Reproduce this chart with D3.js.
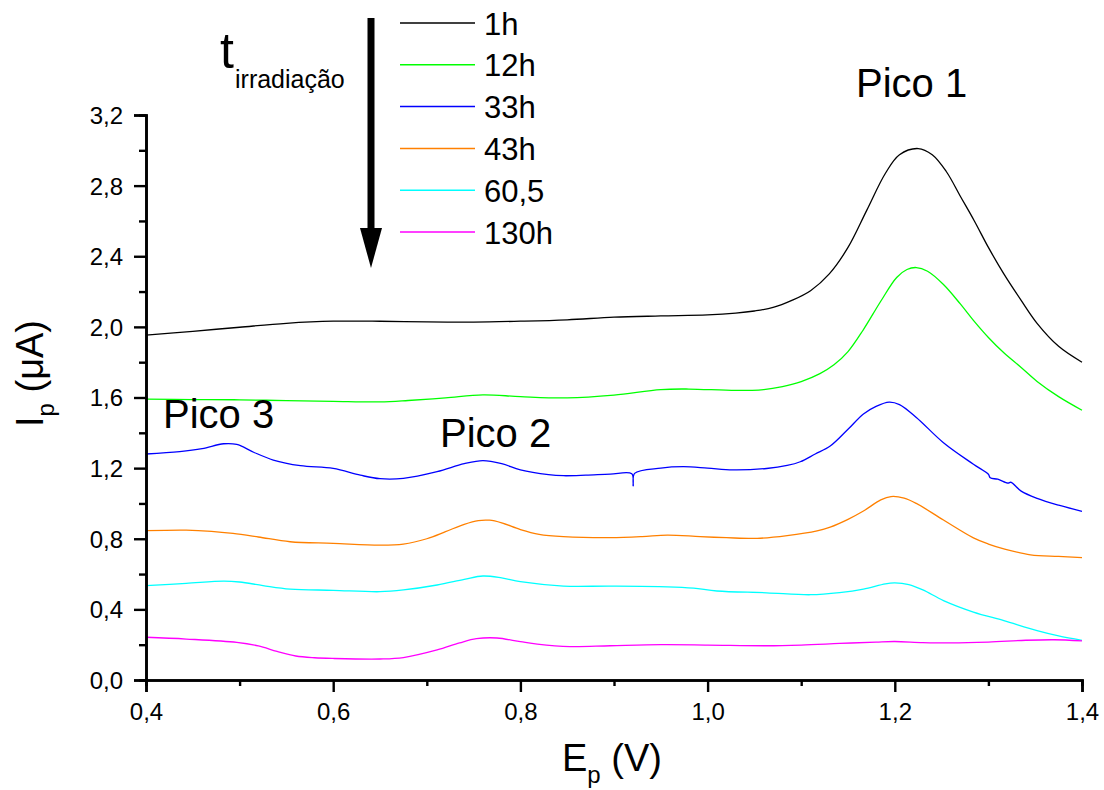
<!DOCTYPE html>
<html>
<head>
<meta charset="utf-8">
<script src="https://cdn.jsdelivr.net/npm/d3@7"></script>
<style>
  html, body { margin: 0; padding: 0; background: #fff; }
  svg { display: block; font-family: "Liberation Sans", Arial, sans-serif; }
</style>
</head>
<body>
<svg id="chart" width="1104" height="790"></svg>
<script>
// ---- data (E in V, I in µA) ----
const seriesNames = ["1h", "12h", "33h", "43h", "60,5", "130h"];
const seriesColors = ["#000000", "#00ff00", "#0000ff", "#ff8000", "#00ffff", "#ff00ff"];

const curve1h = [[0.40,1.953],[0.45,1.975],[0.50,1.998],[0.55,2.02],[0.60,2.032],[0.65,2.032],[0.70,2.028],[0.75,2.027],[0.80,2.032],[0.85,2.04],[0.90,2.055],[0.95,2.062],[1.00,2.068],[1.03,2.078],[1.05,2.09],[1.07,2.11],[1.09,2.15],[1.11,2.205],[1.13,2.30],[1.15,2.45],[1.17,2.66],[1.19,2.87],[1.205,2.975],[1.225,3.01],[1.24,2.975],[1.255,2.88],[1.27,2.74],[1.285,2.60],[1.30,2.45],[1.3165,2.30],[1.335,2.15],[1.352,2.02],[1.375,1.89],[1.40,1.80]];

const curve12h = [[0.40,1.591],[0.45,1.588],[0.50,1.587],[0.55,1.582],[0.60,1.578],[0.65,1.575],[0.68,1.583],[0.72,1.598],[0.76,1.615],[0.80,1.605],[0.85,1.598],[0.90,1.614],[0.95,1.645],[0.98,1.648],[1.03,1.640],[1.06,1.645],[1.08,1.662],[1.10,1.69],[1.12,1.735],[1.135,1.785],[1.15,1.86],[1.1665,1.985],[1.185,2.145],[1.202,2.28],[1.213,2.325],[1.223,2.336],[1.235,2.315],[1.252,2.24],[1.27,2.13],[1.284,2.037],[1.30,1.94],[1.3165,1.853],[1.335,1.77],[1.352,1.691],[1.375,1.605],[1.40,1.528]];

const curve33h = [[0.40,1.28],[0.436,1.293],[0.46,1.31],[0.483,1.338],[0.497,1.334],[0.515,1.29],[0.536,1.246],[0.565,1.214],[0.60,1.198],[0.629,1.16],[0.65,1.14],[0.675,1.142],[0.711,1.18],[0.74,1.225],[0.76,1.242],[0.78,1.225],[0.80,1.19],[0.83,1.163],[0.846,1.157],[0.87,1.16],[0.896,1.166],[0.919,1.168],[0.9205,1.10],[0.922,1.17],[0.95,1.20],[0.974,1.208],[1.0,1.2],[1.027,1.19],[1.063,1.198],[1.085,1.215],[1.099,1.236],[1.115,1.28],[1.131,1.325],[1.15,1.42],[1.1665,1.507],[1.18,1.55],[1.194,1.574],[1.205,1.56],[1.223,1.487],[1.252,1.344],[1.284,1.222],[1.30,1.165],[1.302,1.145],[1.31,1.137],[1.321,1.115],[1.324,1.12],[1.335,1.07],[1.352,1.029],[1.375,0.99],[1.40,0.955]];

const curve43h = [[0.40,0.846],[0.443,0.849],[0.47,0.842],[0.493,0.830],[0.52,0.81],[0.554,0.783],[0.60,0.774],[0.65,0.764],[0.675,0.77],[0.70,0.80],[0.72,0.84],[0.74,0.882],[0.755,0.903],[0.767,0.905],[0.78,0.89],[0.80,0.852],[0.82,0.825],[0.846,0.812],[0.896,0.806],[0.93,0.812],[0.957,0.821],[0.992,0.812],[1.02,0.806],[1.053,0.802],[1.085,0.818],[1.117,0.845],[1.131,0.866],[1.15,0.91],[1.1665,0.957],[1.185,1.02],[1.196,1.039],[1.21,1.03],[1.223,1.0],[1.252,0.906],[1.284,0.805],[1.30,0.77],[1.3165,0.743],[1.345,0.709],[1.375,0.70],[1.40,0.693]];

const curve60h = [[0.40,0.534],[0.443,0.547],[0.483,0.56],[0.50,0.555],[0.525,0.535],[0.554,0.515],[0.60,0.508],[0.65,0.50],[0.675,0.51],[0.711,0.538],[0.74,0.57],[0.76,0.589],[0.78,0.578],[0.80,0.557],[0.846,0.532],[0.896,0.532],[0.957,0.528],[0.985,0.52],[1.01,0.504],[1.063,0.494],[1.11,0.483],[1.141,0.495],[1.1665,0.515],[1.19,0.545],[1.20,0.55],[1.215,0.54],[1.23,0.51],[1.252,0.45],[1.284,0.385],[1.3165,0.336],[1.352,0.28],[1.375,0.25],[1.40,0.225]];

const curve130h = [[0.40,0.242],[0.443,0.232],[0.497,0.213],[0.52,0.193],[0.54,0.162],[0.56,0.136],[0.58,0.126],[0.60,0.122],[0.65,0.119],[0.675,0.127],[0.711,0.17],[0.735,0.21],[0.753,0.234],[0.775,0.238],[0.80,0.217],[0.818,0.203],[0.853,0.189],[0.896,0.194],[0.95,0.20],[1.0,0.198],[1.063,0.194],[1.10,0.198],[1.141,0.207],[1.18,0.215],[1.20,0.218],[1.23,0.212],[1.26,0.21],[1.30,0.215],[1.34,0.225],[1.37,0.228],[1.40,0.222]];

const xMajorTicks = [0.4, 0.6, 0.8, 1.0, 1.2, 1.4];
const xMinorTicks = [0.5, 0.7, 0.9, 1.1, 1.3];
const yMajorTicks = [0.0, 0.4, 0.8, 1.2, 1.6, 2.0, 2.4, 2.8, 3.2];
const yMinorTicks = [0.2, 0.6, 1.0, 1.4, 1.8, 2.2, 2.6, 3.0];

const peakLabels = [["Pico 1", 856, 97], ["Pico 3", 163, 428], ["Pico 2", 440, 447]];

const allCurves = [curve1h, curve12h, curve33h, curve43h, curve60h, curve130h];

// ---- drawing ----
const svg = d3.select("#chart");
const x = d3.scaleLinear().domain([0.4, 1.4]).range([146, 1082]);
const y = d3.scaleLinear().domain([0, 3.2]).range([680, 115]);
const fmt = v => d3.format(".1f")(v).replace(".", ",");

// curves
const line = d3.line().x(d => x(d[0])).y(d => y(d[1])).curve(d3.curveCatmullRom.alpha(0.5));
allCurves.forEach((c, i) => {
  svg.append("path").datum(c)
    .attr("d", line)
    .attr("fill", "none")
    .attr("stroke", seriesColors[i])
    .attr("stroke-width", 1.3);
});

// x axis
const gx = svg.append("g").attr("transform", "translate(0,680)");
gx.call(d3.axisBottom(x).tickValues(xMajorTicks).tickSize(12).tickPadding(11).tickFormat(fmt));
gx.append("g").call(d3.axisBottom(x).tickValues(xMinorTicks).tickSize(6).tickFormat(""));
// y axis
const gy = svg.append("g").attr("transform", "translate(146,0)");
gy.call(d3.axisLeft(y).tickValues(yMajorTicks).tickSize(12).tickPadding(11).tickFormat(fmt));
gy.append("g").call(d3.axisLeft(y).tickValues(yMinorTicks).tickSize(7).tickFormat(""));

svg.selectAll(".domain").attr("stroke", "#000").attr("stroke-width", 2.6);
svg.selectAll(".tick line").attr("stroke", "#000").attr("stroke-width", 2.4);
svg.selectAll(".tick text").attr("fill", "#000").style("font-size", "24px")
  .style("font-family", "'Liberation Sans', Arial, sans-serif");
gx.selectAll(".tick text").attr("dy", "0.71em");
gy.selectAll(".tick text").attr("dy", "0.35em");

// axis titles
const xt = svg.append("text").attr("x", 562).attr("y", 771).style("font-size", "38px");
xt.append("tspan").text("E");
xt.append("tspan").attr("dy", 12).style("font-size", "24px").text("p");
xt.append("tspan").attr("dy", -12).text(" (V)");

const yt = svg.append("text").attr("transform", "translate(43,427) rotate(-90)").style("font-size", "38px");
yt.append("tspan").text("I");
yt.append("tspan").attr("dy", 11).style("font-size", "24px").text("p");
yt.append("tspan").attr("dy", -11).text(" (\u03BCA)");

// legend
const lg = svg.append("g");
seriesNames.forEach((n, i) => {
  const ly = 23 + i * 41.8;
  lg.append("line").attr("x1", 400).attr("x2", 475).attr("y1", ly).attr("y2", ly)
    .attr("stroke", seriesColors[i]).attr("stroke-width", 1.5);
  lg.append("text").attr("x", 484).attr("y", ly + 11.5).style("font-size", "31px").text(n);
});

// arrow and t_irradiação
svg.append("line").attr("x1", 371).attr("x2", 371).attr("y1", 18).attr("y2", 235)
  .attr("stroke", "#000").attr("stroke-width", 7);
svg.append("path").attr("d", "M360,228 L382,228 L371,268 Z").attr("fill", "#000");
const tt = svg.append("text").attr("x", 220).attr("y", 68).style("font-size", "50px");
tt.append("tspan").text("t");
svg.append("text").attr("x", 235).attr("y", 88).style("font-size", "25px").text("irradiação");

// peak labels
peakLabels.forEach(p => {
  svg.append("text").attr("x", p[1]).attr("y", p[2]).style("font-size", "40px").text(p[0]);
});
</script>
</body>
</html>
